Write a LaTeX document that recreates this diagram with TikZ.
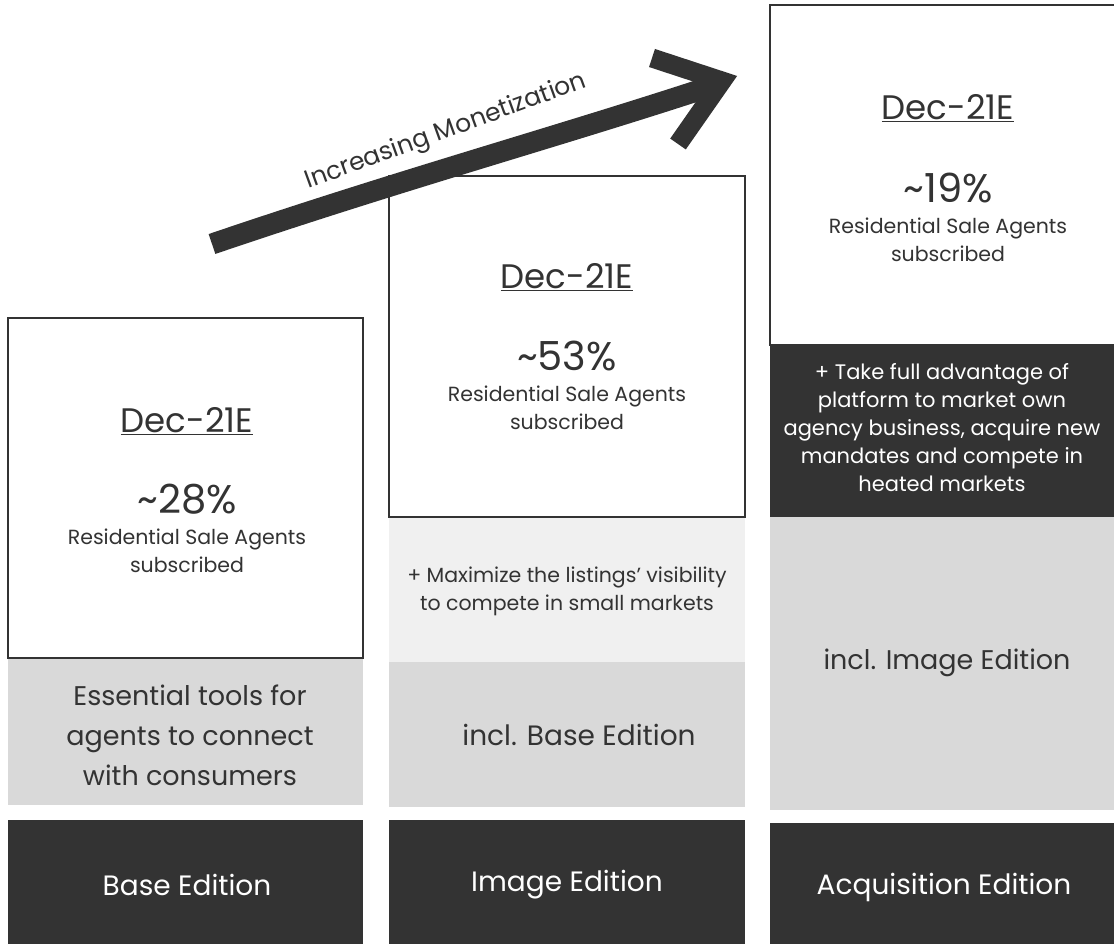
\documentclass[tikz,border=0pt]{standalone}
\usepackage{fontspec}
\setmainfont{Poppins}
\definecolor{dk}{HTML}{333333}
\definecolor{gy}{HTML}{D9D9D9}
\definecolor{lg}{HTML}{F0F0F0}
\tikzset{
  panel/.style={anchor=north west, inner sep=0pt, outer sep=0pt, draw=none},
  whitebox/.style={panel, draw=dk, line width=2pt},
  dtxt/.style={text=dk, align=center, inner sep=0pt},
  wtxt/.style={text=white, align=center, inner sep=0pt},
  ttl/.style={dtxt, font=\fontsize{34}{40}\selectfont},
  pct/.style={dtxt, font=\fontsize{40}{46}\selectfont},
  sub/.style={dtxt, font=\fontsize{20.5}{27.5}\selectfont},
  mid/.style={dtxt, font=\fontsize{27}{40}\selectfont},
  small/.style={dtxt, font=\fontsize{20.5}{28}\selectfont},
  edn/.style={wtxt, font=\fontsize{28}{32}\selectfont},
}
\begin{document}
\begin{tikzpicture}[x=1pt,y=-1pt]
\fill[white] (0,0) rectangle (1114,944);
\useasboundingbox (0,0) rectangle (1114,944);
% column 1
\node[panel, fill=gy, minimum width=355pt, minimum height=147pt] (g1) at (8,658) {};
\node[panel, fill=dk, minimum width=355pt, minimum height=124pt] (e1) at (8,820) {};
% column 2
\node[panel, fill=lg, minimum width=356pt, minimum height=145pt] (l2) at (389,517) {};
\node[panel, fill=gy, minimum width=356pt, minimum height=145pt] (g2) at (389,662) {};
\node[panel, fill=dk, minimum width=356pt, minimum height=124pt] (e2) at (389,820) {};
% column 3
\node[panel, fill=dk, minimum width=346pt, minimum height=172pt] (d3) at (770,345) {};
\node[panel, fill=gy, minimum width=346pt, minimum height=293pt] (g3) at (770,517) {};
\node[panel, fill=dk, minimum width=346pt, minimum height=121pt] (e3) at (770,823) {};
% arrow
\coordinate (as) at (212,244);
\coordinate (ae) at (712,86);
\draw[dk, line width=21pt] (as) .. controls (400,180) and (560,136) .. (ae);
\coordinate (h1) at (652,58);
\coordinate (ht) at (722,81);
\coordinate (h2) at (678,144);
\draw[dk, line width=19pt, line join=miter] (h1) -- (ht) -- (h2);
\node[dtxt, rotate=20, font=\fontsize{25}{28}\selectfont] (lbl) at (446,132) {Increasing Monetization};
% white boxes (borders)
\node[whitebox, minimum width=355pt, minimum height=340pt] (w1) at (8,318) {};
\node[whitebox, minimum width=356pt, minimum height=341pt] (w2) at (389,176) {};
\node[whitebox, minimum width=360pt, minimum height=340pt] (w3) at (770,5) {};
% column 1 texts
\node[ttl] (t1) at (187,421) {\underline{Dec-21E}};
\node[pct] (p1) at (187,499) {\textasciitilde28\%};
\node[sub] (s1) at (187,551) {Residential Sale Agents\\subscribed};
\node[mid] (m1) at (190,735) {Essential tools for\\agents to connect\\with consumers};
\node[edn] (n1) at (187,885) {Base Edition};
% column 2 texts
\node[ttl] (t2) at (567,277) {\underline{Dec-21E}};
\node[pct] (p2) at (567,356) {\textasciitilde53\%};
\node[sub] (s2) at (567,408) {Residential Sale Agents\\subscribed};
\node[small] (x2) at (567,591) {+ Maximize the listings’ visibility\\to compete in small markets};
\node[mid, font=\fontsize{28}{36}\selectfont] (m2) at (579,735) {incl. Base Edition};
\node[edn] (n2) at (567,885) {Image Edition};
% column 3 texts
\node[ttl] (t3) at (948,108) {\underline{Dec-21E}};
\node[pct] (p3) at (948,188) {\textasciitilde19\%};
\node[sub] (s3) at (948,240) {Residential Sale Agents\\subscribed};
\node[wtxt, font=\fontsize{21}{28}\selectfont] (x3) at (942,428) {+ Take full advantage of\\platform to market own\\agency business, acquire new\\mandates and compete in\\heated markets};
\node[mid] (m3) at (947,663) {incl. Image Edition};
\node[edn] (n3) at (944,887) {Acquisition Edition};
\end{tikzpicture}
\end{document}
